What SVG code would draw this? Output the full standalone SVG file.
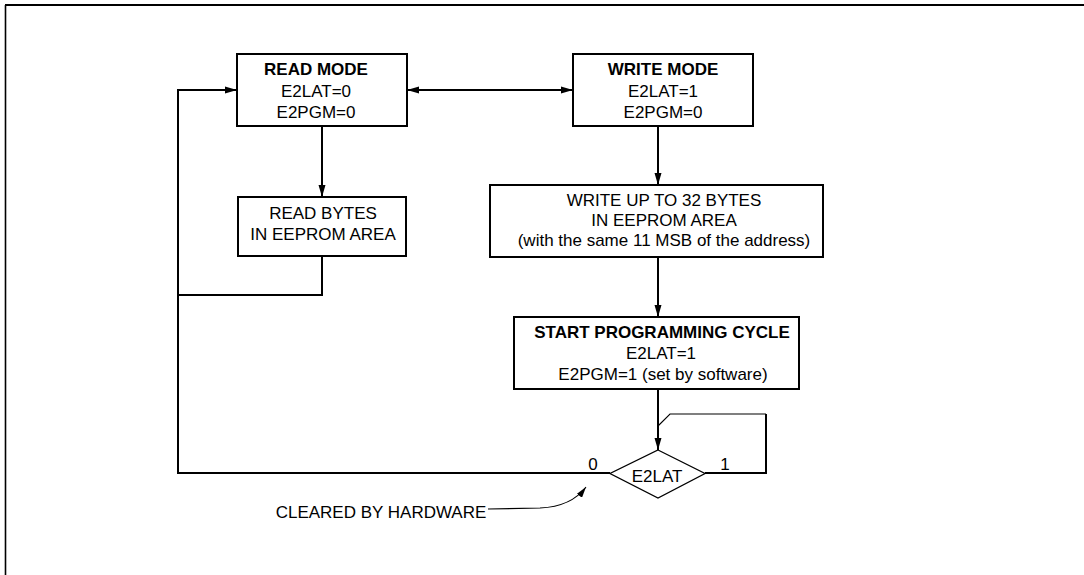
<svg xmlns="http://www.w3.org/2000/svg" width="1084" height="575" viewBox="0 0 1084 575">
<defs>
<style>
.box{fill:#fff;stroke:#000;stroke-width:2}
.dia{fill:#fff;stroke:#000;stroke-width:1.3}
.t{font-family:"Liberation Sans",Arial,sans-serif;font-size:17px;fill:#000;text-anchor:middle}
.b{font-weight:bold}
.c{fill:none;stroke:#000;stroke-width:2}
.thin{fill:none;stroke:#000;stroke-width:1.1}
</style>
<marker id="ah" markerUnits="userSpaceOnUse" viewBox="0 0 12 8" refX="12" refY="4" markerWidth="12" markerHeight="8" orient="auto-start-reverse">
<path d="M0,0.5 L12,4 L0,7.5 z" fill="#000"/>
</marker>
<marker id="ahs" markerUnits="userSpaceOnUse" viewBox="0 0 11 7" refX="11" refY="3.5" markerWidth="11" markerHeight="7" orient="auto">
<path d="M0,0.3 L11,3.5 L0,6.7 z" fill="#000"/>
</marker>
</defs>
<rect width="1084" height="575" fill="#fff"/>
<g id="frame">
<line x1="5" y1="5" x2="1084" y2="5" stroke="#000" stroke-width="2"/>
<line x1="5.5" y1="5" x2="5.5" y2="575" stroke="#000" stroke-width="1.6"/>
</g>
<g id="connectors">
<path class="c" d="M610,473 L178,473 L178,90 L237,90" marker-end="url(#ah)"/>
<line class="c" x1="407" y1="90" x2="573" y2="90" marker-start="url(#ah)" marker-end="url(#ah)"/>
<line class="c" x1="322" y1="126" x2="322" y2="197" marker-end="url(#ah)"/>
<path class="c" d="M322,256 L322,295 L178,295"/>
<line class="c" x1="658" y1="126" x2="658" y2="185" marker-end="url(#ah)"/>
<line class="c" x1="658" y1="257" x2="658" y2="317" marker-end="url(#ah)"/>
<line class="c" x1="658" y1="389" x2="658" y2="450" marker-end="url(#ah)"/>
<path class="c" d="M705,473 L766,473 L766,414"/>
<path class="thin" d="M766,414 L670,414 L658,426"/>
<text class="t" x="593" y="470">0</text>
<text class="t" x="725" y="470">1</text>
</g>
<g id="read_mode">
<rect class="box" x="237" y="54" width="170" height="72"/>
<text class="t b" x="316" y="75">READ MODE</text>
<text class="t" x="316" y="96.5">E2LAT=0</text>
<text class="t" x="316" y="118">E2PGM=0</text>
</g>
<g id="write_mode">
<rect class="box" x="573" y="54" width="180" height="72"/>
<text class="t b" x="663" y="75">WRITE MODE</text>
<text class="t" x="663" y="96.5">E2LAT=1</text>
<text class="t" x="663" y="118">E2PGM=0</text>
</g>
<g id="read_bytes">
<rect class="box" x="238" y="197" width="168" height="59"/>
<text class="t" x="323" y="219">READ BYTES</text>
<text class="t" x="323" y="240">IN EEPROM AREA</text>
</g>
<g id="write_bytes">
<rect class="box" x="490" y="185" width="333" height="72"/>
<text class="t" x="664" y="206">WRITE UP TO 32 BYTES</text>
<text class="t" x="664" y="226">IN EEPROM AREA</text>
<text class="t" x="664" y="246">(with the same 11 MSB of the address)</text>
</g>
<g id="start_programming">
<rect class="box" x="514" y="317" width="285" height="72"/>
<text class="t b" x="662" y="337.5">START PROGRAMMING CYCLE</text>
<text class="t" x="661" y="359">E2LAT=1</text>
<text class="t" x="663" y="379.5">E2PGM=1 (set by software)</text>
</g>
<g id="e2lat_decision">
<polygon class="dia" points="658,450 705,473.5 658,498 610,473.5"/>
<text class="t" x="657" y="482">E2LAT</text>
</g>
<g id="cleared_note">
<text class="t" x="381" y="518">CLEARED BY HARDWARE</text>
<path class="thin" d="M488,509 L540,508 C563,507 577,499 586,487" marker-end="url(#ahs)"/>
</g>
</svg>
